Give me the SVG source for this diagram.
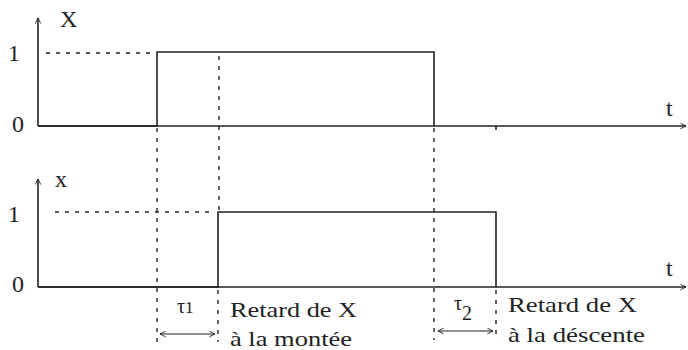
<svg xmlns="http://www.w3.org/2000/svg" width="688" height="350" viewBox="0 0 688 350" font-family="'Liberation Serif', 'Times New Roman', serif">
<defs>
<marker id="ah" viewBox="0 0 10 10" refX="9" refY="5" markerWidth="7" markerHeight="7" orient="auto-start-reverse" markerUnits="userSpaceOnUse">
<path d="M1,1 L9,5 L1,9" fill="none" stroke="#222" stroke-width="1.3"/>
</marker>
</defs>
<style>
.ax{fill:none;stroke:#222;stroke-width:1.6}
.sig{fill:none;stroke:#222;stroke-width:1.6}
.dash{fill:none;stroke:#222;stroke-width:1.4;stroke-dasharray:4 6}
.dim{fill:none;stroke:#222;stroke-width:1.1}
text{font-family:'Liberation Serif', serif;fill:#222}
.lbl{font-size:24px}
.note{font-size:22px}
</style>
<rect width="688" height="350" fill="#fff"/>
<g id="top-plot">
<line class="ax" x1="38" y1="126" x2="38" y2="18" marker-end="url(#ah)"/>
<line class="ax" x1="38" y1="126" x2="686" y2="126" marker-end="url(#ah)"/>
<line class="ax" x1="496" y1="126" x2="496" y2="130"/>
<polyline class="sig" points="38,126 157,126 157,52 434,52 434,126"/>
<text class="lbl" x="60" y="27" font-family="'Liberation Serif', serif">X</text>
<text class="lbl" x="8" y="61" font-family="'Liberation Serif', serif">1</text>
<text class="lbl" x="12" y="132" font-family="'Liberation Serif', serif">0</text>
<text class="lbl" x="666" y="116" font-family="'Liberation Serif', serif">t</text>
</g>
<g id="bottom-plot">
<line class="ax" x1="38" y1="287" x2="38" y2="179" marker-end="url(#ah)"/>
<line class="ax" x1="38" y1="287" x2="686" y2="287" marker-end="url(#ah)"/>
<polyline class="sig" points="38,287 218,287 218,212 496,212 496,287"/>
<text class="lbl" x="55" y="187" font-family="'Liberation Serif', serif">x</text>
<text class="lbl" x="8" y="222" font-family="'Liberation Serif', serif">1</text>
<text class="lbl" x="12" y="292" font-family="'Liberation Serif', serif">0</text>
<text class="lbl" x="666" y="276" font-family="'Liberation Serif', serif">t</text>
</g>
<g id="connectors">
<line class="dash" x1="46" y1="53" x2="154" y2="53"/>
<line class="dash" x1="55" y1="212" x2="215" y2="212"/>
<line class="dash" x1="157" y1="128" x2="157" y2="342"/>
<line class="dash" x1="219" y1="56" x2="219" y2="210"/>
<line class="dash" x1="218" y1="290" x2="218" y2="342"/>
<line class="dash" x1="434" y1="128" x2="434" y2="340"/>
<line class="dash" x1="496" y1="290" x2="496" y2="338"/>
<line class="dim" x1="160" y1="334" x2="215" y2="334" marker-start="url(#ah)" marker-end="url(#ah)"/>
<line class="dim" x1="438" y1="331" x2="493" y2="331" marker-start="url(#ah)" marker-end="url(#ah)"/>
</g>
<g id="label-rise" font-family="'Liberation Serif', serif">
<text font-size="20" x="177" y="313" font-family="'Liberation Serif', serif">τ<tspan font-size="17">1</tspan></text>
<text class="note" x="230" y="317" textLength="127" lengthAdjust="spacingAndGlyphs" font-family="'Liberation Serif', serif">Retard de X</text>
<text class="note" x="230" y="346" textLength="122" lengthAdjust="spacingAndGlyphs" font-family="'Liberation Serif', serif">à la montée</text>
</g>
<g id="label-fall" font-family="'Liberation Serif', serif">
<text font-size="20" x="454" y="310" font-family="'Liberation Serif', serif">τ<tspan font-size="20" dy="10">2</tspan></text>
<text class="note" x="508" y="312" textLength="129" lengthAdjust="spacingAndGlyphs" font-family="'Liberation Serif', serif">Retard de X</text>
<text class="note" x="508" y="342" textLength="137" lengthAdjust="spacingAndGlyphs" font-family="'Liberation Serif', serif">à la déscente</text>
</g>
</svg>
